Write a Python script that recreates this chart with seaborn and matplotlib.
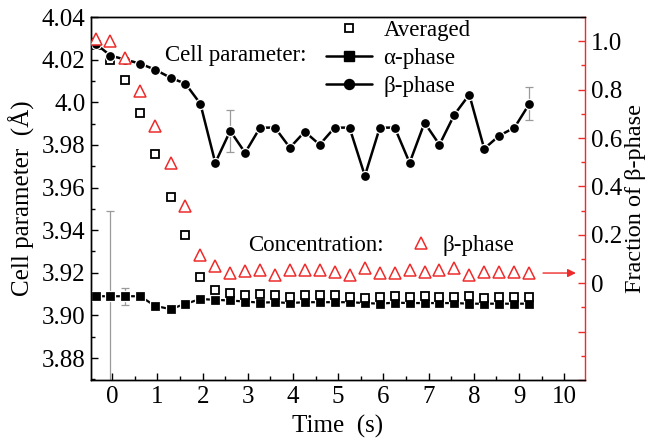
import matplotlib
matplotlib.use("Agg")
import matplotlib.pyplot as plt
import numpy as np
import pandas as pd
import seaborn as sns
from matplotlib.lines import Line2D
from matplotlib.ticker import MultipleLocator, FixedLocator, FixedFormatter

# ---------------- data ----------------
time_s = [-0.37, -0.04, 0.29, 0.62, 0.95, 1.29, 1.62, 1.95, 2.28, 2.61,
          2.94, 3.27, 3.60, 3.93, 4.26, 4.59, 4.92, 5.25, 5.59, 5.92,
          6.25, 6.58, 6.91, 7.24, 7.57, 7.90, 8.23, 8.56, 8.90, 9.23]

averaged = [4.0270, 4.0200, 4.0106, 3.9951, 3.9758, 3.9556, 3.9378, 3.9181, 3.9119, 3.9105,
            3.9096, 3.9100, 3.9095, 3.9085, 3.9095, 3.9095, 3.9098, 3.9088, 3.9080, 3.9085,
            3.9090, 3.9085, 3.9090, 3.9085, 3.9085, 3.9090, 3.9080, 3.9085, 3.9085, 3.9085]

alpha_phase = [3.9090, 3.9090, 3.9090, 3.9090, 3.9044, 3.9030, 3.9054, 3.9077, 3.9073, 3.9070,
               3.9065, 3.9060, 3.9062, 3.9058, 3.9062, 3.9062, 3.9062, 3.9062, 3.9058, 3.9055,
               3.9060, 3.9058, 3.9058, 3.9058, 3.9058, 3.9055, 3.9055, 3.9055, 3.9055, 3.9055]

beta_phase = [4.0275, 4.0219, 4.0200, 4.0181, 4.0153, 4.0115, 4.0087, 3.9993, 3.9716, 3.9866,
              3.9763, 3.9881, 3.9881, 3.9787, 3.9862, 3.9801, 3.9881, 3.9881, 3.9655, 3.9881,
              3.9881, 3.9716, 3.9904, 3.9801, 3.9942, 4.0036, 3.9782, 3.9843, 3.9881, 3.9993]

beta_fraction = [1.008, 1.000, 0.929, 0.796, 0.650, 0.496, 0.321, 0.117, 0.071, 0.042,
                 0.050, 0.054, 0.033, 0.054, 0.054, 0.054, 0.046, 0.033, 0.062, 0.042,
                 0.042, 0.054, 0.046, 0.054, 0.062, 0.033, 0.046, 0.046, 0.046, 0.042]

alpha_err = [0, 0.040, 0.004] + [0] * 27
beta_err = [0] * 9 + [0.0099] + [0] * 19 + [0.0078]

left_ticks = [3.88, 3.90, 3.92, 3.94, 3.96, 3.98, 4.00, 4.02, 4.04]
left_labels = ["3.88", "3.90", "3.92", "3.94", "3.96", "3.98", "4.0", "4.02", "4.04"]
right_ticks = [-0.4, -0.2, 0.0, 0.2, 0.4, 0.6, 0.8, 1.0]
right_labels = ["", "", "0", "0.2", "0.4", "0.6", "0.8", "1.0"]
x_ticks = [0, 1, 2, 3, 4, 5, 6, 7, 8, 9, 10]

df = pd.DataFrame({"t": time_s, "avg": averaged, "alpha": alpha_phase,
                   "beta": beta_phase, "frac": beta_fraction,
                   "aerr": alpha_err, "berr": beta_err})

# ---------------- style ----------------
sns.set_theme(style="ticks")
plt.rcParams["font.family"] = ["Liberation Serif", "DejaVu Serif"]
plt.rcParams.update({
    "axes.edgecolor": "black", "text.color": "black",
    "xtick.color": "black", "ytick.color": "black",
    "axes.labelcolor": "black", "axes.linewidth": 1.0,
})
RED = "#ee2b2b"

fig = plt.figure(figsize=(6.49, 4.43), dpi=100)
fig.patch.set_facecolor("white")
ax = fig.add_axes([91 / 649, 1 - 380 / 443, (585 - 91) / 649, (380 - 17) / 443])
ax2 = ax.twinx()

# error bars
ea = df[df["aerr"] > 0]
ax.errorbar(ea["t"], ea["alpha"], yerr=ea["aerr"], fmt="none", ecolor="#9a9a9a",
            elinewidth=0.9, capsize=2.6, capthick=0.9, zorder=1)
eb = df[df["berr"] > 0]
ax.errorbar(eb["t"], eb["beta"], yerr=eb["berr"], fmt="none", ecolor="#9a9a9a",
            elinewidth=0.9, capsize=2.6, capthick=0.9, zorder=1)

# alpha phase
sns.lineplot(data=df, x="t", y="alpha", ax=ax, estimator=None, sort=False,
             color="black", lw=1.6, marker="s", markersize=6.6, mfc="black",
             mec="white", mew=0.9, legend=False, zorder=3)
# averaged
sns.lineplot(data=df, x="t", y="avg", ax=ax, estimator=None, sort=False,
             linestyle="none", marker="s", markersize=5.4, mfc="white",
             mec="black", mew=1.3, legend=False, zorder=4)
# beta phase
sns.lineplot(data=df, x="t", y="beta", ax=ax, estimator=None, sort=False,
             color="black", lw=1.8, marker="o", markersize=7.2, mfc="black",
             mec="white", mew=0.9, legend=False, zorder=5)
# beta fraction on right axis
sns.lineplot(data=df, x="t", y="frac", ax=ax2, estimator=None, sort=False,
             linestyle="none", marker="^", markersize=8.6, mfc="white",
             mec=RED, mew=1.1, legend=False, zorder=5)

# axes limits and ticks
ax.set_xlim(-0.47, 10.46)
ax.set_ylim(3.8697, 4.04)
ax2.set_ylim(-0.4, 1.1)

ax.xaxis.set_major_locator(FixedLocator(x_ticks))
ax.xaxis.set_minor_locator(MultipleLocator(0.5))
ax.yaxis.set_major_locator(FixedLocator(left_ticks))
ax.yaxis.set_major_formatter(FixedFormatter(left_labels))
ax.yaxis.set_minor_locator(MultipleLocator(0.01))
ax2.yaxis.set_major_locator(FixedLocator(right_ticks))
ax2.yaxis.set_major_formatter(FixedFormatter(right_labels))
ax2.yaxis.set_minor_locator(MultipleLocator(0.1))

ax.tick_params(axis="both", which="major", direction="in", length=5, width=1.0,
               labelsize=18, top=False, right=False, pad=4)
ax.tick_params(axis="both", which="minor", direction="in", length=3, width=1.0,
               top=False, right=False)
ax2.tick_params(axis="y", which="major", direction="in", length=5, width=1.0,
                colors=RED, labelcolor="black", labelsize=18, pad=4)
ax2.tick_params(axis="y", which="minor", direction="in", length=3, width=1.0,
                colors=RED)

ax2.spines["right"].set_color(RED)
ax.spines["right"].set_visible(False)
for a in (ax, ax2):
    for s in a.spines.values():
        s.set_linewidth(1.0)

ax.set_xlabel("Time  (s)", fontsize=18, labelpad=5)
ax.set_ylabel("Cell parameter  (Å)", fontsize=18, labelpad=5)
ax2.set_ylabel("Fraction of β-phase", fontsize=17.5, labelpad=2)

# arrow pointing to the right axis
ax2.annotate("", xy=(10.32, beta_fraction[-1]), xytext=(9.47, beta_fraction[-1]),
             arrowprops=dict(arrowstyle="-|>", color=RED, lw=1.0, mutation_scale=12))

# legends
h_avg = Line2D([], [], ls="none", marker="s", ms=5.4, mfc="white", mec="black", mew=1.3)
h_alpha = Line2D([], [], color="black", lw=1.8, marker="s", ms=6.6, mfc="black", mec="black")
h_beta = Line2D([], [], color="black", lw=1.8, marker="o", ms=7.2, mfc="black", mec="black")
leg1 = ax2.legend([h_avg, h_alpha, h_beta], ["Averaged", "α-phase", "β-phase"],
                  loc="upper left", bbox_to_anchor=(326 / 649, 1 - 20 / 443),
                  bbox_transform=fig.transFigure, frameon=False, borderpad=0,
                  borderaxespad=0, handlelength=2.0, handletextpad=0.5,
                  labelspacing=0.3, fontsize=16.5)
ax2.add_artist(leg1)
h_tri = Line2D([], [], ls="none", marker="^", ms=8.6, mfc="white", mec=RED, mew=1.1)
leg2 = ax2.legend([h_tri], ["β-phase"], loc="upper left",
                  bbox_to_anchor=(410 / 649, 1 - 235 / 443),
                  bbox_transform=fig.transFigure, frameon=False, borderpad=0,
                  borderaxespad=0, handlelength=1.0, handletextpad=0.4,
                  fontsize=16.5)

fig.text(165 / 649, 1 - 56 / 443, "Cell parameter:", fontsize=16.5, va="center", ha="left")
fig.text(248 / 649, 1 - 246 / 443, "Concentration:", fontsize=16.5, va="center", ha="left")

fig.savefig("out.png", dpi=100, facecolor="white")
